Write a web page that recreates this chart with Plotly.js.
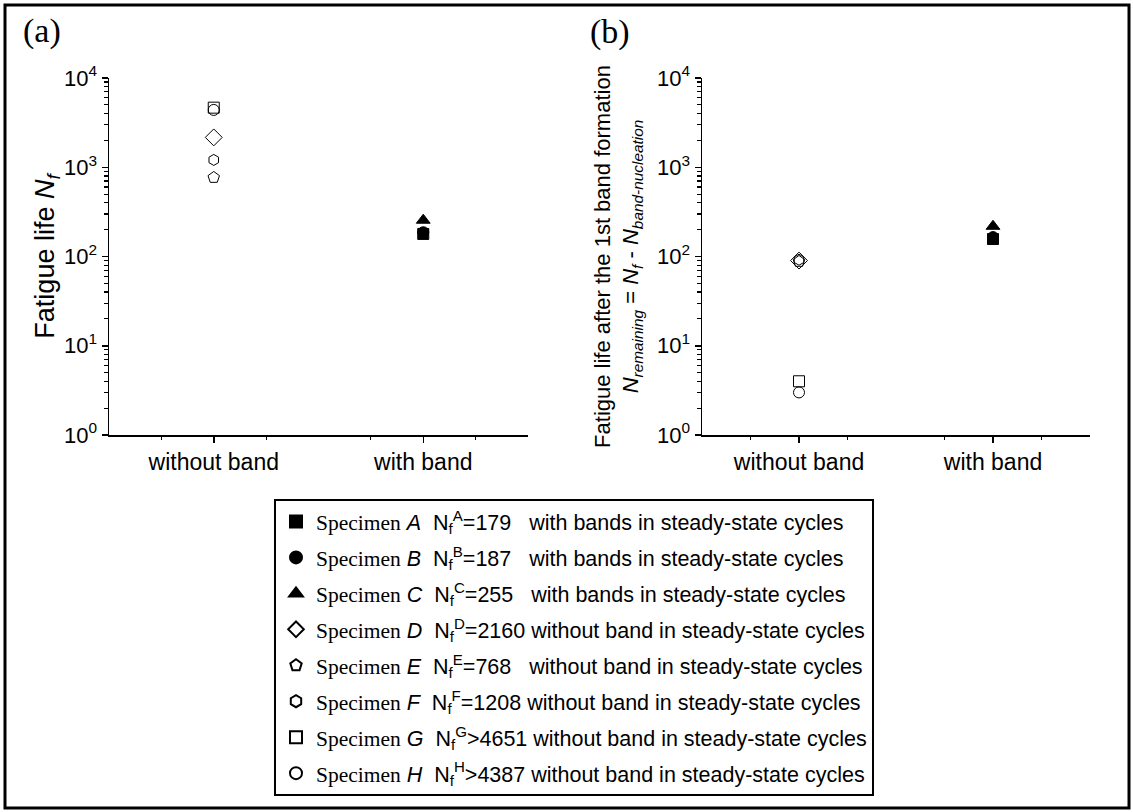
<!DOCTYPE html>
<html>
<head>
<meta charset="utf-8">
<script src="https://cdn.plot.ly/plotly-3.0.1.min.js"></script>
<style>html,body{margin:0;padding:0;background:#fff}</style>
</head>
<body>
<div id="chart" style="width:1133px;height:812px"></div>
<script>
// ---- data ----
const specimens = ['A','B','C','D','E','F','G','H'];
const nfText = ['=179','=187','=255','=2160','=768','=1208','>4651','>4387'];
const nfValues = [179,187,255,2160,768,1208,4651,4387];
const nRemaining = [157,165,218,90,88,92,4,3];
const groups = ['with band','with band','with band','without band','without band','without band','without band','without band'];
const notes = ['with bands in steady-state cycles','with bands in steady-state cycles','with bands in steady-state cycles',
  'without band in steady-state cycles','without band in steady-state cycles','without band in steady-state cycles',
  'without band in steady-state cycles','without band in steady-state cycles'];
const categories = ['without band','with band'];
const yDecades = [1,10,100,1000,10000];
const yDecadeText = ['10<sup>0</sup>','10<sup>1</sup>','10<sup>2</sup>','10<sup>3</sup>','10<sup>4</sup>'];
const yMinorDigits = [2,3,4,5,6,7,8,9];

// ---- styles ----
const symbols = ['square','circle','triangle-up','diamond-open','pentagon-open','hexagon-open','square-open','circle-open'];
const sizes = [11,11,12,13,12,11,11,11];
const pad = ['\u00a0\u00a0\u00a0','\u00a0\u00a0\u00a0','\u00a0\u00a0\u00a0','\u00a0','\u00a0\u00a0\u00a0','\u00a0','\u00a0','\u00a0'];

const catPos = g => categories.indexOf(g) + 1;
const traces = [];
specimens.forEach((s, i) => {
  const name = '<span style="font-family:\'Liberation Serif\'">Specimen</span> <i>' + s + '</i>\u00a0 N<sub>f</sub><sup>' + s + '</sup>' + nfText[i] + pad[i] + notes[i];
  const marker = {symbol: symbols[i], size: sizes[i], color: 'black', line: {color: 'black', width: 1}};
  traces.push({x: [catPos(groups[i])], y: [nfValues[i]], type: 'scatter', mode: 'markers', name: name,
    legendgroup: 'g' + i, marker: marker, xaxis: 'x', yaxis: 'y', cliponaxis: false});
  traces.push({x: [catPos(groups[i])], y: [nRemaining[i]], type: 'scatter', mode: 'markers', name: name,
    legendgroup: 'g' + i, showlegend: false, marker: marker, xaxis: 'x2', yaxis: 'y2', cliponaxis: false});
});

const W = 1133, H = 812;
const px = v => v / W, py = v => 1 - v / H;

// minor tick positions (digits 2..9 within each decade)
const yMinorVals = [];
yDecades.slice(0, -1).forEach(d => yMinorDigits.forEach(k => yMinorVals.push(d * k)));

const xaxisBase = {
  range: [0.5, 2.5], tickvals: [1, 2], ticktext: categories, ticks: 'outside', ticklen: 6, tickwidth: 1.5,
  tickcolor: 'black', showline: true, linecolor: 'black', linewidth: 1.5, showgrid: false, zeroline: false,
  tickfont: {family: 'Liberation Sans, Arial', size: 23, color: 'black'},
  minor: {tick0: 0.75, dtick: 0.5, ticks: 'outside', ticklen: 3, tickwidth: 1.2, tickcolor: 'black', showgrid: false},
  fixedrange: true
};
const yaxisBase = {
  type: 'log', autorange: false, range: [0, 4], tickmode: 'array', tickvals: yDecades, ticktext: yDecadeText,
  ticks: 'outside', ticklen: 6, tickwidth: 1.5, tickcolor: '#000000',
  showline: true, linecolor: 'black', linewidth: 1.5, showgrid: false, zeroline: false,
  tickfont: {family: 'Liberation Sans, Arial', size: 22, color: 'black'},
  minor: {tickmode: 'array', tickvals: yMinorVals, ticks: 'outside', ticklen: 4, tickwidth: 1.2, tickcolor: '#000000', showgrid: false},
  domain: [py(435), py(78)], fixedrange: true
};

const layout = {
  width: W, height: H, margin: {l: 0, r: 0, t: 0, b: 0},
  paper_bgcolor: 'white', plot_bgcolor: 'white',
  font: {family: 'Liberation Sans, Arial', color: 'black'},
  xaxis: Object.assign({}, xaxisBase, {domain: [px(109), px(528)], anchor: 'y'}),
  yaxis: Object.assign({}, yaxisBase, {anchor: 'x',
    title: {text: 'Fatigue life <i>N<sub>f</sub></i>', font: {size: 27, color: 'black'}, standoff: 0}}),
  xaxis2: Object.assign({}, xaxisBase, {domain: [px(702), px(1090)], anchor: 'y2'}),
  yaxis2: Object.assign({}, yaxisBase, {anchor: 'x2',
    title: {text: 'Fatigue life after the 1st band formation<br><i>N<sub>remaining</sub></i> = <i>N<sub>f</sub></i> - <i>N<sub>band-nucleation</sub></i>',
      font: {size: 22, color: 'black'}, standoff: 12}}),
  showlegend: true,
  legend: {
    x: px(274), y: py(499), xanchor: 'left', yanchor: 'top',
    bordercolor: 'black', borderwidth: 2, bgcolor: 'white',
    font: {family: 'Liberation Sans, Arial', size: 21.5, color: 'black'},
    traceorder: 'grouped', tracegroupgap: 5, itemsizing: 'constant', itemwidth: 30
  },
  annotations: [
    {text: '(a)', xref: 'paper', yref: 'paper', x: px(42), y: py(31), xanchor: 'center', yanchor: 'middle',
      showarrow: false, font: {family: 'Liberation Serif, Times New Roman', size: 34, color: 'black'}},
    {text: '(b)', xref: 'paper', yref: 'paper', x: px(610), y: py(32), xanchor: 'center', yanchor: 'middle',
      showarrow: false, font: {family: 'Liberation Serif, Times New Roman', size: 34, color: 'black'}}
  ],
  shapes: [
    {type: 'rect', xref: 'paper', yref: 'paper', x0: px(5), x1: px(1129), y0: py(808), y1: py(5),
      line: {color: 'black', width: 3}, fillcolor: 'rgba(0,0,0,0)'}
  ]
};

Plotly.newPlot('chart', traces, layout, {staticPlot: true, displayModeBar: false});
</script>
</body>
</html>
